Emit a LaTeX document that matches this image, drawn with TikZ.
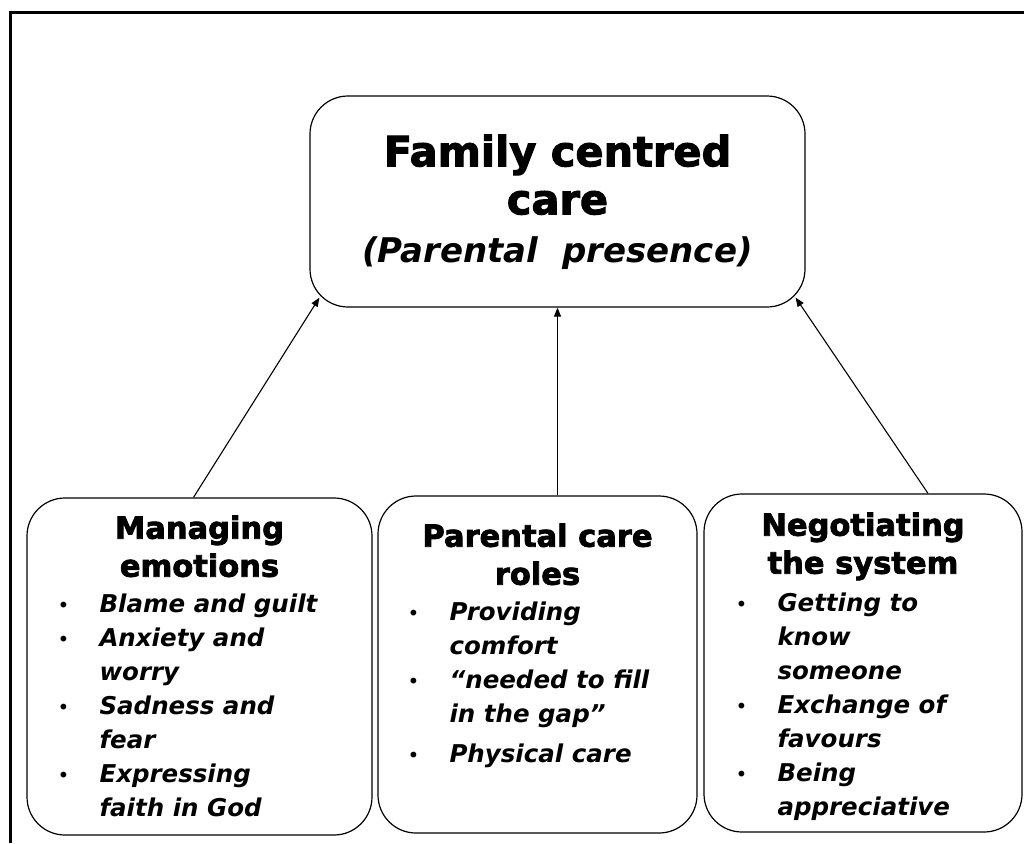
\documentclass[tikz,border=0pt]{standalone}
\usepackage{fontspec}
\setmainfont{DejaVu Sans}[BoldFeatures={FakeBold=2.5}]
\usetikzlibrary{arrows.meta,calc}
\newcommand{\bul}{\makebox[42pt][l]{\normalfont\fontsize{20}{20}\selectfont\textbullet}}
\newcommand{\cont}{\hspace*{42pt}}
\tikzset{
  panel/.style={draw,line width=1.2pt,rounded corners=38pt,inner sep=0pt},
  head/.style={font=\bfseries\fontsize{30.5}{38}\selectfont,align=center,anchor=north},
  items/.style={font=\bfseries\itshape\fontsize{24.5}{34}\selectfont,align=left,anchor=north west},
  link/.style={-{Triangle[length=9pt,width=7pt]},line width=1.1pt}
}
\begin{document}
\begin{tikzpicture}[x=1pt,y=-1pt]
\useasboundingbox (0,0) rectangle (1024,843);
\draw[line width=3pt] (10,843) -- (10,12.5) -- (1024,12.5);
%
\node[panel,minimum width=495,minimum height=211] (fam) at (557.5,201.5) {};
\node[font=\bfseries\fontsize{41.5}{48}\selectfont,align=center] (famtxt) at (557.5,202)
  {Family centred\\care\\{\fontsize{34}{40}\selectfont\itshape (Parental\ \ presence)}};
%
\node[panel,minimum width=345,minimum height=337] (emo) at (199.5,666.5) {};
\node[panel,minimum width=319,minimum height=337] (roles) at (537.5,664.5) {};
\node[panel,minimum width=318,minimum height=338] (sys) at (863,663) {};
%
\node[head] (emohead) at (199.5,512) {Managing\\emotions};
\node[items] (emolist) at (54,590) {\bul Blame and guilt\\ \bul Anxiety and\\ \cont worry\\
  \bul Sadness and\\ \cont fear\\ \bul Expressing\\ \cont faith in God};
\node[head] (roleshead) at (537.5,520) {Parental care\\roles};
\node[items] (roleslist) at (404,598) {\bul Providing\\ \cont comfort\\ \bul “needed to fill\\
  \cont in the gap”\\[6pt] \bul Physical care};
\node[head] (syshead) at (863,509) {Negotiating\\the system};
\node[items] (syslist) at (732,589) {\bul Getting to\\ \cont know\\ \cont someone\\
  \bul Exchange of\\ \cont favours\\ \bul Being\\ \cont appreciative};
%
\draw[link] ($(emo.north)+(-6,0)$) -- ($(fam.south west)+(10,-10)$);
\draw[link] (roles.north -| fam.south) -- (fam.south);
\draw[link] ($(sys.north)+(65,0)$) -- ($(fam.south east)+(-10,-10)$);
\end{tikzpicture}
\end{document}
